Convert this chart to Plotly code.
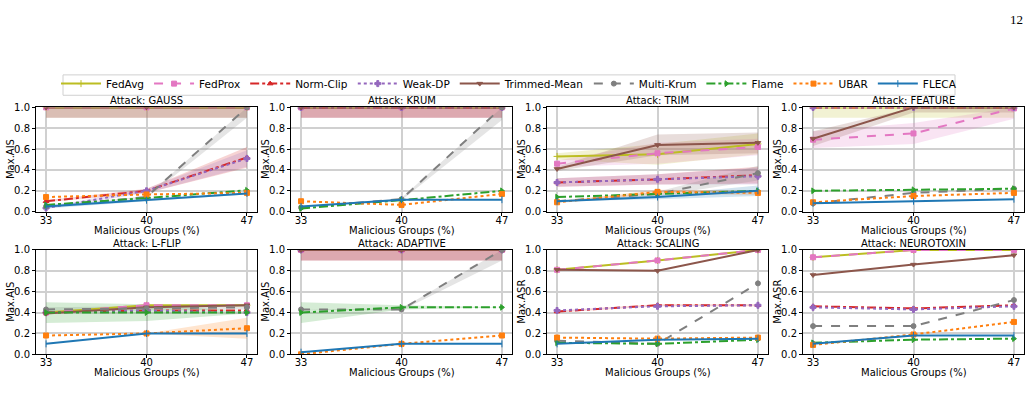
import plotly.graph_objects as go

# ---------------- data ----------------
X = [33, 40, 47]
X_TICKS = ["33", "40", "47"]
Y_TICKS = [0.0, 0.2, 0.4, 0.6, 0.8, 1.0]
SERIES = ["FedAvg", "FedProx", "Norm-Clip", "Weak-DP", "Trimmed-Mean",
          "Multi-Krum", "Flame", "UBAR", "FLECA"]
ATTACKS = ["GAUSS", "KRUM", "TRIM", "FEATURE", "L-FLIP", "ADAPTIVE", "SCALING", "NEUROTOXIN"]
Y_LABELS = ["Max.AIS", "Max.AIS", "Max.AIS", "Max.AIS", "Max.AIS", "Max.AIS", "Max.ASR", "Max.ASR"]
X_LABEL = "Malicious Groups (%)"

GAUSS = {"FedAvg": [1.0, 1.0, 1.0], "FedProx": [1.0, 1.0, 1.0], "Norm-Clip": [0.10, 0.20, 0.52],
         "Weak-DP": [0.035, 0.20, 0.51], "Trimmed-Mean": [1.0, 1.0, 1.0], "Multi-Krum": [0.05, 0.14, 1.0],
         "Flame": [0.065, 0.13, 0.205], "UBAR": [0.14, 0.165, 0.18], "FLECA": [0.05, 0.11, 0.175]}
KRUM = {"FedAvg": [1.0, 1.0, 1.0], "FedProx": [1.0, 1.0, 1.0], "Norm-Clip": [1.0, 1.0, 1.0],
        "Weak-DP": [1.0, 1.0, 1.0], "Trimmed-Mean": [1.0, 1.0, 1.0], "Multi-Krum": [0.04, 0.12, 1.0],
        "Flame": [0.03, 0.11, 0.20], "UBAR": [0.10, 0.065, 0.17], "FLECA": [0.05, 0.115, 0.115]}
TRIM = {"FedAvg": [0.53, 0.55, 0.65], "FedProx": [0.46, 0.56, 0.62], "Norm-Clip": [0.28, 0.31, 0.35],
        "Weak-DP": [0.28, 0.31, 0.34], "Trimmed-Mean": [0.41, 0.64, 0.66], "Multi-Krum": [0.10, 0.17, 0.37],
        "Flame": [0.14, 0.17, 0.20], "UBAR": [0.09, 0.19, 0.18], "FLECA": [0.10, 0.14, 0.20]}
FEATURE = {"FedAvg": [1.0, 1.0, 1.0], "FedProx": [0.69, 0.75, 0.99], "Norm-Clip": [1.0, 1.0, 1.0],
           "Weak-DP": [1.0, 1.0, 1.0], "Trimmed-Mean": [0.70, 1.0, 1.0], "Multi-Krum": [0.08, 0.18, 0.22],
           "Flame": [0.20, 0.21, 0.22], "UBAR": [0.09, 0.15, 0.18], "FLECA": [0.08, 0.10, 0.12]}
LFLIP = {"FedAvg": [0.40, 0.47, 0.47], "FedProx": [0.40, 0.47, 0.47], "Norm-Clip": [0.40, 0.42, 0.42],
         "Weak-DP": [0.40, 0.42, 0.40], "Trimmed-Mean": [0.39, 0.45, 0.47], "Multi-Krum": [0.43, 0.44, 0.45],
         "Flame": [0.40, 0.40, 0.40], "UBAR": [0.18, 0.20, 0.25], "FLECA": [0.10, 0.20, 0.20]}
ADAPTIVE = {"FedAvg": [1.0, 1.0, 1.0], "FedProx": [1.0, 1.0, 1.0], "Norm-Clip": [1.0, 1.0, 1.0],
            "Weak-DP": [1.0, 1.0, 1.0], "Trimmed-Mean": [1.0, 1.0, 1.0], "Multi-Krum": [0.43, 0.43, 1.0],
            "Flame": [0.40, 0.45, 0.45], "UBAR": [0.0, 0.10, 0.18], "FLECA": [0.02, 0.10, 0.10]}
SCALING = {"FedAvg": [0.81, 0.90, 1.0], "FedProx": [0.81, 0.90, 1.0], "Norm-Clip": [0.41, 0.47, 0.47],
           "Weak-DP": [0.42, 0.46, 0.47], "Trimmed-Mean": [0.81, 0.80, 1.0], "Multi-Krum": [0.13, 0.10, 0.68],
           "Flame": [0.11, 0.10, 0.14], "UBAR": [0.16, 0.15, 0.16], "FLECA": [0.10, 0.14, 0.15]}
NEUROTOXIN = {"FedAvg": [0.93, 1.0, 1.0], "FedProx": [0.93, 1.0, 1.0], "Norm-Clip": [0.46, 0.44, 0.47],
              "Weak-DP": [0.45, 0.43, 0.46], "Trimmed-Mean": [0.76, 0.86, 0.95], "Multi-Krum": [0.27, 0.27, 0.52],
              "Flame": [0.11, 0.14, 0.15], "UBAR": [0.09, 0.19, 0.31], "FLECA": [0.10, 0.18, 0.18]}

# shaded spread (half-width) around some series
GAUSS_SD = {"FedAvg": [0.1, 0.1, 0.1], "FedProx": [0.1, 0.1, 0.1], "Trimmed-Mean": [0.1, 0.1, 0.1],
            "Norm-Clip": [0.01, 0.02, 0.10], "Weak-DP": [0.01, 0.02, 0.08], "Multi-Krum": [0.0, 0.01, 0.10],
            "FLECA": [0.02, 0.01, 0.01]}
KRUM_SD = {"FedProx": [0.1, 0.1, 0.1], "Norm-Clip": [0.1, 0.1, 0.1], "Trimmed-Mean": [0.1, 0.1, 0.1],
           "Multi-Krum": [0.0, 0.01, 0.12]}
TRIM_SD = {"FedAvg": [0.03, 0.10, 0.10], "FedProx": [0.03, 0.10, 0.08], "Norm-Clip": [0.04, 0.05, 0.08],
           "Weak-DP": [0.04, 0.05, 0.08], "Trimmed-Mean": [0.02, 0.10, 0.10], "Multi-Krum": [0.0, 0.02, 0.07],
           "UBAR": [0.01, 0.02, 0.02], "FLECA": [0.0, 0.02, 0.05]}
FEATURE_SD = {"FedAvg": [0.1, 0.1, 0.1], "FedProx": [0.08, 0.10, 0.10], "Trimmed-Mean": [0.07, 0.05, 0.05]}
LFLIP_SD = {"Flame": [0.10, 0.08, 0.01], "UBAR": [0.0, 0.0, 0.10], "Multi-Krum": [0.02, 0.02, 0.02]}
ADAPTIVE_SD = {"FedProx": [0.1, 0.1, 0.1], "Norm-Clip": [0.1, 0.1, 0.1], "Trimmed-Mean": [0.1, 0.1, 0.1],
               "Multi-Krum": [0.0, 0.01, 0.10], "Flame": [0.10, 0.02, 0.0]}
SCALING_SD = {"Norm-Clip": [0.01, 0.01, 0.01]}
NEUROTOXIN_SD = {}

MEANS = [GAUSS, KRUM, TRIM, FEATURE, LFLIP, ADAPTIVE, SCALING, NEUROTOXIN]
SPREADS = [GAUSS_SD, KRUM_SD, TRIM_SD, FEATURE_SD, LFLIP_SD, ADAPTIVE_SD, SCALING_SD, NEUROTOXIN_SD]

# ---------------- style ----------------
COLORS = ["#bcbd22", "#e377c2", "#d62728", "#9467bd", "#8c564b", "#7f7f7f", "#2ca02c", "#ff7f0e", "#1f77b4"]
DASHES = ["solid", "dash", "dashdot", "dot", "solid", "dash", "dashdot", "dot", "solid"]
SYMBOLS = ["cross-thin", "square", "triangle-up", "cross", "triangle-down", "circle",
           "triangle-right", "square", "line-ns"]

W, H = 1035, 402
COL_PX = [(36, 257), (291, 512), (547, 768), (803, 1024)]
ROW_PX = [(104.5, 212), (251.5, 359)]
FONT = "DejaVu Sans"
FS = 10


def rgba(hexc, a):
    h = hexc.lstrip("#")
    return "rgba(%d,%d,%d,%g)" % (int(h[0:2], 16), int(h[2:4], 16), int(h[4:6], 16), a)


fig = go.Figure()
annotations = []
layout_axes = {}

for i, attack in enumerate(ATTACKS):
    r, c = divmod(i, 4)
    n = i + 1
    xa = "x" if n == 1 else "x%d" % n
    ya = "y" if n == 1 else "y%d" % n
    means = MEANS[i]
    spreads = SPREADS[i]
    for s, name in enumerate(SERIES):
        if name in spreads:
            m = means[name]
            sd = spreads[name]
            up = [min(1.0, v + d) for v, d in zip(m, sd)]
            lo = [max(0.0, v - d) for v, d in zip(m, sd)]
            fig.add_trace(go.Scatter(x=X + X[::-1], y=up + lo[::-1], fill="toself",
                                     fillcolor=rgba(COLORS[s], 0.2), line=dict(width=0),
                                     mode="lines", hoverinfo="skip", showlegend=False,
                                     xaxis=xa, yaxis=ya))
    for s, name in enumerate(SERIES):
        fig.add_trace(go.Scatter(x=X, y=means[name], name=name, mode="lines+markers",
                                 line=dict(color=COLORS[s], dash=DASHES[s], width=2),
                                 marker=dict(symbol=SYMBOLS[s], size=5, color=COLORS[s],
                                             line=dict(color=COLORS[s], width=1)),
                                 showlegend=(i == 0), legendgroup=name,
                                 xaxis=xa, yaxis=ya))

    x0, x1 = COL_PX[c]
    y0, y1 = ROW_PX[r]
    common = dict(showline=True, linecolor="black", linewidth=1, mirror=True,
                  ticks="outside", ticklen=3, tickwidth=1, tickcolor="black",
                  showgrid=True, gridcolor="#d0d0d0", gridwidth=1.5, zeroline=False,
                  tickfont=dict(family=FONT, size=FS, color="black"))
    layout_axes["xaxis" if n == 1 else "xaxis%d" % n] = dict(
        domain=[x0 / W, x1 / W], range=[32.3, 47.7], tickvals=X, ticktext=X_TICKS,
        anchor=ya, ticklabelstandoff=-4, **common)
    layout_axes["yaxis" if n == 1 else "yaxis%d" % n] = dict(
        domain=[1 - y1 / H, 1 - y0 / H], range=[0, 1], tickvals=Y_TICKS,
        ticktext=["%.1f" % v for v in Y_TICKS], anchor=xa, **common)
    annotations.append(dict(text="Attack: " + attack, x=(x0 + x1) / 2 / W, y=1 - (y0 - 7) / H,
                            xref="paper", yref="paper", xanchor="center", yanchor="middle",
                            showarrow=False, font=dict(family=FONT, size=FS, color="black")))
    annotations.append(dict(text=X_LABEL, x=(x0 + x1) / 2 / W, y=1 - (y1 + 19) / H,
                            xref="paper", yref="paper", xanchor="center", yanchor="middle",
                            showarrow=False, font=dict(family=FONT, size=FS, color="black")))
    annotations.append(dict(text=Y_LABELS[i], x=(x0 - 25.5) / W, y=1 - (y0 + y1) / 2 / H,
                            xref="paper", yref="paper", xanchor="center", yanchor="middle",
                            textangle=-90, showarrow=False,
                            font=dict(family=FONT, size=FS, color="black")))

annotations.append(dict(text="12", x=1025 / W, y=1 - 4 / H, xref="paper", yref="paper",
                        xanchor="right", yanchor="top", showarrow=False,
                        font=dict(family="Liberation Serif", size=13, color="black")))

fig.update_layout(
    width=W, height=H, margin=dict(l=0, r=0, t=0, b=0),
    paper_bgcolor="white", plot_bgcolor="white",
    font=dict(family=FONT, size=FS, color="black"),
    showlegend=True,
    legend=dict(orientation="h", x=56 / W, y=1 - 80 / H, xanchor="left", yanchor="middle",
                borderwidth=0, bgcolor="rgba(0,0,0,0)",
                font=dict(family=FONT, size=10.5, color="black"), itemwidth=40),
    shapes=[dict(type="rect", xref="paper", yref="paper", x0=63 / W, x1=955 / W,
                 y0=1 - 92 / H, y1=1 - 71 / H, line=dict(color="#d0d0d0", width=1),
                 fillcolor="rgba(0,0,0,0)", layer="below")],
    annotations=annotations,
    **layout_axes,
)

fig.write_html("out.html")
